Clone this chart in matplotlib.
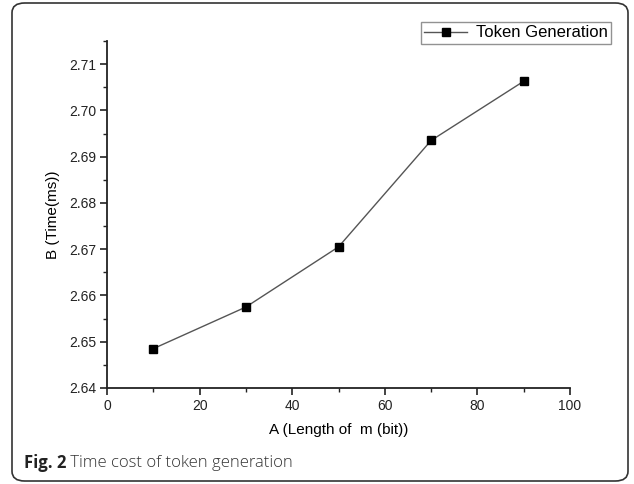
import matplotlib
matplotlib.use("Agg")
import matplotlib.pyplot as plt
from matplotlib.patches import FancyBboxPatch
from matplotlib.ticker import MultipleLocator

x_vals = [10, 30, 50, 70, 90]
y_vals = [2.6485, 2.6575, 2.6705, 2.6935, 2.7063]
series_label = "Token Generation"
x_label = "A (Length of  m (bit))"
y_label = "B (Time(ms))"
caption_bold = "Fig. 2"
caption_text = " Time cost of token generation"

plt.rcParams['font.family'] = ['Liberation Sans', 'DejaVu Sans']

fig = plt.figure(figsize=(6.34, 4.84), dpi=100)
W, H = 634, 484

# outer rounded frame
frame = FancyBboxPatch((12 / W, 3 / H), (W - 18) / W, (H - 6) / H,
                       boxstyle="round,pad=0,rounding_size=0.02",
                       transform=fig.transFigure, fill=False,
                       edgecolor="#333333", linewidth=1.2)
fig.patches.append(frame)

ax = fig.add_axes([107 / W, 1 - 388 / H, (570 - 107) / W, (388 - 41) / H])
ax.plot(x_vals, y_vals, color="#555555", linewidth=1.0, marker="s",
        markersize=6, markerfacecolor="black", markeredgecolor="black",
        label=series_label)

ax.set_xlim(0, 100)
ax.set_ylim(2.64, 2.715)
ax.xaxis.set_major_locator(MultipleLocator(20))
ax.xaxis.set_minor_locator(MultipleLocator(10))
ax.yaxis.set_major_locator(MultipleLocator(0.01))
ax.yaxis.set_minor_locator(MultipleLocator(0.005))
ax.yaxis.set_major_formatter(matplotlib.ticker.FormatStrFormatter('%.2f'))
ax.xaxis.set_major_formatter(matplotlib.ticker.FormatStrFormatter('%d'))

for s in ["top", "right"]:
    ax.spines[s].set_visible(False)
for s in ["left", "bottom"]:
    ax.spines[s].set_linewidth(1.3)
    ax.spines[s].set_color("#222222")

ax.tick_params(axis="both", which="major", direction="out", length=5,
               width=1.2, labelsize=10, colors="#222222", pad=3)
ax.tick_params(axis="both", which="minor", direction="out", length=3,
               width=1.0, colors="#222222")

ax.set_xlabel(x_label, fontsize=11, labelpad=7)
ax.set_ylabel(y_label, fontsize=11, labelpad=6)

leg = ax.legend(loc="upper right", bbox_to_anchor=(611 / W, 1 - 22 / H),
                bbox_transform=fig.transFigure, fontsize=12, frameon=True,
                fancybox=False, handlelength=2.6, handletextpad=0.5,
                borderpad=0.2, borderaxespad=0)
leg.get_frame().set_edgecolor("#777777")
leg.get_frame().set_linewidth(1.0)

t1 = fig.text(24 / W, 1 - 463 / H, caption_bold, fontsize=12,
              fontweight="bold", family=["Open Sans", "DejaVu Sans"],
              va="center", ha="left", color="#222222")
fig.canvas.draw()
bb = t1.get_window_extent()
fig.text(bb.x1 / W, 1 - 463 / H, caption_text, fontsize=12,
         family=["Open Sans", "DejaVu Sans"], fontweight="light",
         va="center", ha="left", color="#333333")

fig.savefig("out.png", dpi=100)
